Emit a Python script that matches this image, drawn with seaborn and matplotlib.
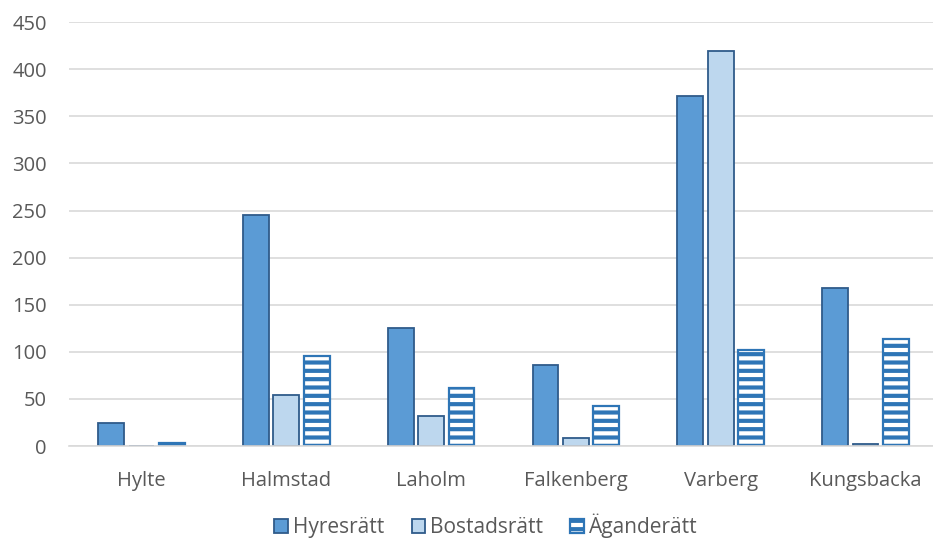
import pandas as pd
import seaborn as sns
import matplotlib.pyplot as plt
from matplotlib.patches import Patch

kommuner = ['Hylte', 'Halmstad', 'Laholm', 'Falkenberg', 'Varberg', 'Kungsbacka']
series = ['Hyresrätt', 'Bostadsrätt', 'Äganderätt']
hyresratt = [24, 245, 125, 86, 372, 168]
bostadsratt = [0, 54, 32, 9, 419, 2]
aganderatt = [3, 96, 62, 42, 102, 114]

df = pd.DataFrame({'kommun': kommuner * 3,
                   'typ': [s for s in series for _ in kommuner],
                   'antal': hyresratt + bostadsratt + aganderatt})

sns.set_style('white')
plt.rcParams['font.family'] = ['Open Sans', 'DejaVu Sans']
plt.rcParams['hatch.linewidth'] = 3.0
plt.rcParams['hatch.color'] = '#2E75B6'

fig, ax = plt.subplots(figsize=(9.33, 5.4), dpi=100)
fig.subplots_adjust(left=0.074, right=1.0, top=0.959, bottom=0.174)

edge = '#2F5B8A'
colors = ['#5B9BD5', '#BDD7EE', 'white']
sns.barplot(data=df, x='kommun', y='antal', hue='typ', palette=colors, saturation=1,
            width=0.63, gap=0.15, ax=ax, legend=False, edgecolor=edge, linewidth=1.3)

# third series gets horizontal stripes
n = len(kommuner)
for i, p in enumerate(ax.patches[:3 * n]):
    if i >= 2 * n:
        p.set_hatch('--')
        p.set_edgecolor('#2E75B6')
        p.set_linewidth(1.6)

ax.set_ylim(0, 450)
ax.set_yticks(range(0, 451, 50))
ax.set_xlim(-0.5, 5.466)
ax.yaxis.grid(True, color='#D9D9D9', linewidth=1.2)
ax.set_axisbelow(True)
sns.despine(ax=ax, left=True)
ax.spines['bottom'].set_color('#D9D9D9')
ax.spines['bottom'].set_linewidth(1.2)
ax.tick_params(axis='both', length=0, labelsize=14.5, labelcolor='#595959')
ax.tick_params(axis='x', pad=18)
ax.tick_params(axis='y', pad=16)
ax.set_xlabel('')
ax.set_ylabel('')

handles = [Patch(facecolor='#5B9BD5', edgecolor=edge, linewidth=1.3),
           Patch(facecolor='#BDD7EE', edgecolor=edge, linewidth=1.3),
           Patch(facecolor='white', edgecolor='#2E75B6', hatch='--', linewidth=1.6)]
leg = fig.legend(handles, series, loc='lower center', bbox_to_anchor=(0.521, -0.02), ncol=3,
                 frameon=False, fontsize=15, handlelength=0.65, handleheight=0.65,
                 handletextpad=0.25, columnspacing=1.3, borderaxespad=0.2)
for t in leg.get_texts():
    t.set_color('#595959')

fig.savefig('out.png', dpi=100)
